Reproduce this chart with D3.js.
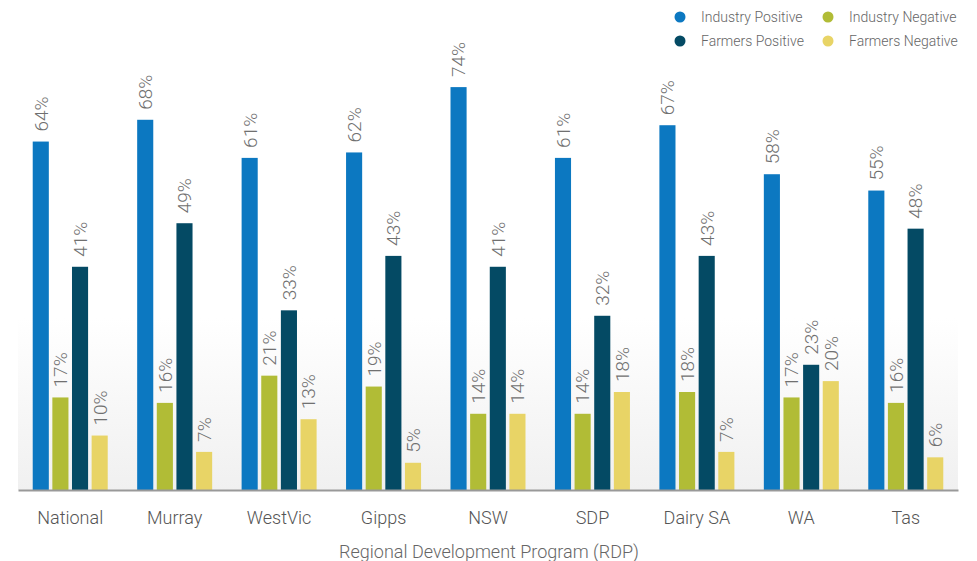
<!DOCTYPE html>
<html>
<head>
<meta charset="UTF-8">
<script src="https://d3js.org/d3.v7.min.js"></script>
<style>
  body { margin: 0; background: #fff; }
  svg text { font-family: Roboto, "Liberation Sans", sans-serif; font-weight: 300; }
  .Val { fill: #707070; font-size: 19px; }
  .Cat { fill: #555; font-size: 18px; }
  .Leg { fill: #666; font-size: 14px; }
  .Title { fill: #666; font-size: 18px; }
</style>
</head>
<body>
<svg id="Chart" width="977" height="561"></svg>
<script>
var Regions = ["National", "Murray", "WestVic", "Gipps", "NSW", "SDP", "Dairy SA", "WA", "Tas"];
var SeriesNames = ["Industry Positive", "Industry Negative", "Farmers Positive", "Farmers Negative"];
var IndustryPositive = [64, 68, 61, 62, 74, 61, 67, 58, 55];
var IndustryNegative = [17, 16, 21, 19, 14, 14, 18, 17, 16];
var FarmersPositive  = [41, 49, 33, 43, 41, 32, 43, 23, 48];
var FarmersNegative  = [10, 7, 13, 5, 14, 18, 7, 20, 6];
var Colours = ["#0c78c1", "#b1bc36", "#044a64", "#e8d466"];

var AllSeries = [IndustryPositive, IndustryNegative, FarmersPositive, FarmersNegative];
var DataArr = [];
Regions.forEach(function(Region, i)
{
	SeriesNames.forEach(function(Name, j)
	{
		DataArr.push({"Region": Region, "Series": Name, "Value": AllSeries[j][i]});
	});
});

var Left = 18, Right = 958, Bottom = 490;
var Svg = d3.select("#Chart");

// soft grey gradient behind the bars
var Grad = Svg.append("defs").append("linearGradient")
	.attr("id", "BgGrad").attr("x1", 0).attr("y1", 0).attr("x2", 0).attr("y2", 1);
Grad.append("stop").attr("offset", "0%").attr("stop-color", "#ffffff");
Grad.append("stop").attr("offset", "60%").attr("stop-color", "#ffffff");
Grad.append("stop").attr("offset", "100%").attr("stop-color", "#f0f0f0");
Svg.append("rect")
	.attr("x", Left).attr("y", 60)
	.attr("width", Right - Left).attr("height", Bottom - 60)
	.attr("fill", "url(#BgGrad)");

var X0 = d3.scaleBand().domain(Regions).range([Left, Right]);
var X1 = d3.scaleBand().domain(SeriesNames).range([0, X0.bandwidth()])
	.paddingInner(0.18).paddingOuter(0.75);
var Y = d3.scaleLinear().domain([0, 90]).range([Bottom, 0]);
var Colour = d3.scaleOrdinal().domain(SeriesNames).range(Colours);

Svg.append("g")
	.selectAll("rect")
	.data(DataArr)
	.enter()
	.append("rect")
	.attr("x", function(d){ return X0(d.Region) + X1(d.Series); })
	.attr("y", function(d){ return Y(d.Value); })
	.attr("width", X1.bandwidth())
	.attr("height", function(d){ return Bottom - Y(d.Value); })
	.attr("fill", function(d){ return Colour(d.Series); });

Svg.append("g")
	.selectAll("text")
	.data(DataArr)
	.enter()
	.append("text")
	.attr("class", "Val")
	.attr("transform", function(d)
	{
		var cx = X0(d.Region) + X1(d.Series) + X1.bandwidth() / 2;
		return "translate(" + cx + "," + (Y(d.Value) - 10) + ") rotate(-90)";
	})
	.attr("dy", "0.36em")
	.text(function(d){ return d.Value + "%"; });

// bottom axis
var Axis = Svg.append("g")
	.attr("transform", "translate(0," + Bottom + ")")
	.call(d3.axisBottom(X0).tickSize(0).tickPadding(21));
Axis.select(".domain").attr("stroke", "#999").attr("stroke-width", 2);
Axis.selectAll("text").attr("class", "Cat").attr("font-family", null).attr("font-size", null).attr("fill", null);

Svg.append("text")
	.attr("class", "Title")
	.attr("x", 489).attr("y", 558)
	.attr("text-anchor", "middle")
	.text("Regional Development Program (RDP)");

// legend, two columns
var LegPos = [[680, 17], [828, 17], [680, 41], [828, 41]];
var Leg = Svg.append("g")
	.selectAll("g")
	.data(SeriesNames)
	.enter()
	.append("g")
	.attr("transform", function(d, i){ return "translate(" + LegPos[i][0] + "," + LegPos[i][1] + ")"; });
Leg.append("circle").attr("r", 5.5).attr("fill", function(d){ return Colour(d); });
Leg.append("text").attr("class", "Leg").attr("x", 21).attr("dy", "0.36em").text(function(d){ return d; });
</script>
</body>
</html>
